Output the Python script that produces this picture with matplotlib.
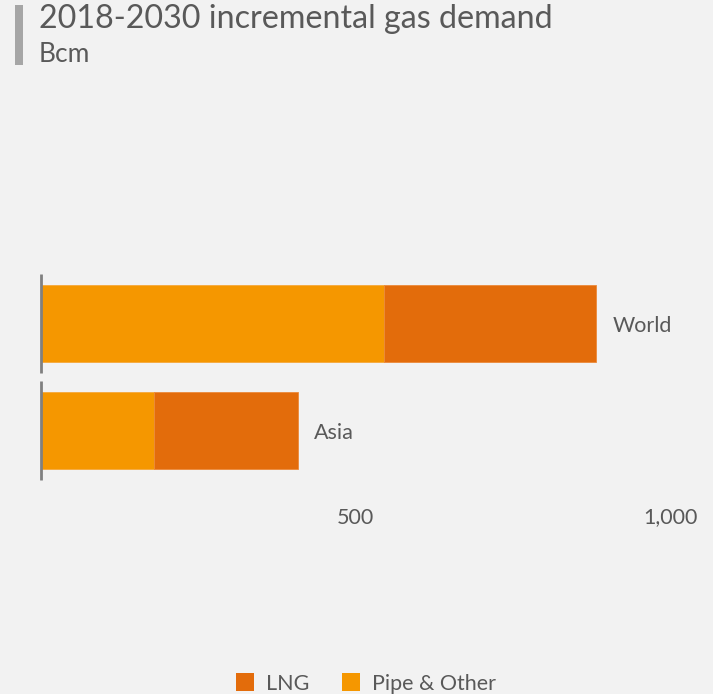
import matplotlib
matplotlib.use("Agg")
import matplotlib.pyplot as plt
from matplotlib.patches import Patch, Rectangle

# Incremental gas demand 2018-2030, Bcm
regions = ["World", "Asia"]
pipe_other = [545, 180]
lng = [338, 229]
xticks = [500, 1000]
xtick_labels = ["500", "1,000"]
title = "2018-2030 incremental gas demand"
unit = "Bcm"

BG = "#f2f2f2"
PIPE = "#f59700"
LNG = "#e36c0b"
TXT = "#595959"
FONT = "Lato"

W, H = 713, 694
fig = plt.figure(figsize=(W / 100, H / 100), dpi=100, facecolor=BG)

# axes placed in pixel terms: x 0..1000 spans 40.5..670 px
x0_px, x1_px = 40.5, 670.0
y_top_px, y_bot_px = 254.4, 499.9
ax = fig.add_axes([x0_px / W, 1 - y_bot_px / H, (x1_px - x0_px) / W, (y_bot_px - y_top_px) / H])
ax.set_facecolor(BG)

ypos = list(range(len(regions)))
bar_h = 0.72
ax.barh(ypos, pipe_other, height=bar_h, color=PIPE, edgecolor="#f6a83a", linewidth=0.6)
ax.barh(ypos, lng, left=pipe_other, height=bar_h, color=LNG, edgecolor="#ec8a3a", linewidth=0.6)

# category labels at the end of each bar
for y, p, l, name in zip(ypos, pipe_other, lng, regions):
    ax.text(p + l + 26, y + 0.02, name, va="center", ha="left", fontsize=15.5, color=TXT, family=FONT)

# short axis segments per category
for y in ypos:
    ax.plot([0, 0], [y - 0.465, y + 0.465], color="#808080", lw=2.0, solid_capstyle="butt", clip_on=False)

ax.set_xlim(0, 1000)
ax.set_ylim(len(regions) - 1 + 0.65, -0.65)
ax.set_xticks(xticks)
ax.set_xticklabels(xtick_labels, fontsize=15.5, color=TXT, family=FONT)
ax.tick_params(axis="x", length=0, pad=5.5)
ax.set_yticks([])
for s in ax.spines.values():
    s.set_visible(False)

# title block with accent bar
fig.patches.append(Rectangle((15 / W, 1 - 65 / H), 8 / W, 60 / H, transform=fig.transFigure,
                             facecolor="#a6a6a6", edgecolor="none"))
fig.text(39 / W, 1 - 19 / H, title, fontsize=23.2, color=TXT, family=FONT, va="center", ha="left")
fig.text(39 / W, 1 - 54 / H, unit, fontsize=19, color=TXT, family=FONT, va="center", ha="left")

handles = [Patch(facecolor=LNG, edgecolor="none"), Patch(facecolor=PIPE, edgecolor="none")]
fig.legend(handles, ["LNG", "Pipe & Other"], loc="center", bbox_to_anchor=(366 / W, 1 - 683.5 / H),
           ncol=2, frameon=False, handlelength=0.86, handleheight=0.86, handletextpad=0.55,
           columnspacing=1.5, prop={"family": FONT, "size": 15.5}, labelcolor=TXT)

fig.savefig("out.png", dpi=100, facecolor=BG)
